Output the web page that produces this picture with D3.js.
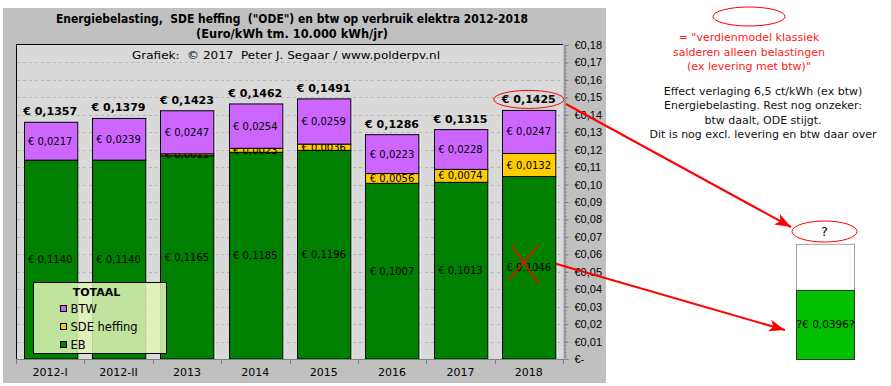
<!DOCTYPE html>
<html>
<head>
<meta charset="utf-8">
<script src="https://cdn.jsdelivr.net/npm/d3@7"></script>
<style>
  body { margin: 0; background: #ffffff; }
  svg { display: block; font-family: Verdana, "DejaVu Sans", sans-serif; }
  text { white-space: pre; }
</style>
</head>
<body>
<svg id="chart" width="891" height="386"></svg>
<script>
const categories = ["2012-I", "2012-II", "2013", "2014", "2015", "2016", "2017", "2018"];
const ebValues  = [0.1140, 0.1140, 0.1165, 0.1185, 0.1196, 0.1007, 0.1013, 0.1046];
const sdeValues = [0, 0, 0.0011, 0.0023, 0.0036, 0.0056, 0.0074, 0.0132];
const btwValues = [0.0217, 0.0239, 0.0247, 0.0254, 0.0259, 0.0223, 0.0228, 0.0247];
const seriesNames = ["BTW", "SDE heffing", "EB"];
const seriesColors = ["#cc66ff", "#ffcc00", "#008000"];
const yTickValues = [0, 0.01, 0.02, 0.03, 0.04, 0.05, 0.06, 0.07, 0.08, 0.09,
  0.10, 0.11, 0.12, 0.13, 0.14, 0.15, 0.16, 0.17, 0.18];

// projectie 2018 na verlaging EB (rechts)
const projectedEb = 0.0396;
const projectedUnknownTop = 0.066;

const titleLines = [
  "Energiebelasting,  SDE heffing  (\"ODE\") en btw op verbruik elektra 2012-2018",
  "(Euro/kWh tm. 10.000 kWh/jr)"
];
const titleWidths = [472, 192];
const creditText = "Grafiek:  \u00a9 2017  Peter J. Segaar / www.polderpv.nl";
const redNote = ["= \"verdienmodel klassiek", "salderen alleen belastingen", "(ex levering met btw)\""];
const blackNote = ["Effect verlaging 6,5 ct/kWh (ex btw)", "Energiebelasting. Rest nog onzeker:",
  "btw daalt, ODE stijgt.", "Dit is nog excl. levering en btw daar over"];

const euro = v => "\u20ac " + v.toFixed(4).replace(".", ",");

function main() {
  const svg = d3.select("#chart");
  const plot = {left: 16, right: 563, top: 44, bottom: 359};

  const x = d3.scaleBand().domain(categories)
    .range([plot.left, plot.right]).paddingInner(0.22).paddingOuter(0.11);
  const y = d3.scaleLinear().domain([0, 0.18]).range([plot.bottom, 45]);

  drawFrame(svg, plot, y);
  drawTitles(svg);
  drawBars(svg, x, y);
  drawAxes(svg, plot, x, y);
  drawLegend(svg);
  drawNotes(svg, x, y);
}

function drawFrame(svg, plot, y) {
  svg.append("rect").attr("x", 3).attr("y", 8).attr("width", 603).attr("height", 375)
    .attr("fill", "#c0c0c0");
  svg.append("rect").attr("x", plot.left).attr("y", plot.top)
    .attr("width", plot.right - plot.left).attr("height", plot.bottom - plot.top)
    .attr("fill", "#d9d9d9");
  svg.append("path")
    .attr("d", `M${plot.left + 0.5},${plot.bottom}V${plot.top + 0.5}H${plot.right}`)
    .attr("fill", "none").attr("stroke", "#000");
  svg.append("g").selectAll("line")
    .data(yTickValues.slice(1, -1))
    .join("line")
    .attr("x1", plot.left + 1).attr("x2", plot.right)
    .attr("y1", d => Math.round(y(d)) + 0.5).attr("y2", d => Math.round(y(d)) + 0.5)
    .attr("stroke", "#b4b4b4").attr("stroke-dasharray", "3,3");
  svg.append("text").attr("x", 286).attr("y", 59)
    .attr("text-anchor", "middle").attr("font-size", 11).attr("fill", "#000")
    .attr("textLength", 308).attr("lengthAdjust", "spacingAndGlyphs")
    .text(creditText);
}

function drawTitles(svg) {
  svg.append("g").selectAll("text")
    .data(titleLines)
    .join("text")
    .attr("x", 292).attr("y", (d, i) => 23 + i * 15)
    .attr("text-anchor", "middle").attr("font-size", 11.5).attr("font-weight", "bold")
    .attr("textLength", (d, i) => titleWidths[i]).attr("lengthAdjust", "spacingAndGlyphs")
    .text(d => d);
}

function drawBars(svg, x, y) {
  const rows = categories.map((c, i) => ({
    cat: c, eb: ebValues[i], sde: sdeValues[i], btw: btwValues[i],
    total: ebValues[i] + sdeValues[i] + btwValues[i]
  }));
  const stack = d3.stack().keys(["eb", "sde", "btw"])(rows);
  const color = d3.scaleOrdinal(["btw", "sde", "eb"], seriesColors);

  // lichte rand rechts van elke staaf
  svg.append("g").selectAll("line")
    .data(rows)
    .join("line")
    .attr("x1", d => x(d.cat) + x.bandwidth() + 1.5).attr("x2", d => x(d.cat) + x.bandwidth() + 1.5)
    .attr("y1", d => y(d.total)).attr("y2", y(0))
    .attr("stroke", "#f4f4f4");

  const layer = svg.append("g").selectAll("g")
    .data(stack)
    .join("g")
    .attr("fill", d => color(d.key));

  layer.selectAll("rect")
    .data(d => d.filter(p => p[1] > p[0]))
    .join("rect")
    .attr("x", d => Math.round(x(d.data.cat)) + 0.5)
    .attr("y", d => y(d[1]))
    .attr("width", x.bandwidth())
    .attr("height", d => y(d[0]) - y(d[1]))
    .attr("stroke", "#000").attr("stroke-width", 1);

  layer.selectAll("text")
    .data(d => d.filter(p => p[1] > p[0]))
    .join("text")
    .attr("x", d => x(d.data.cat) + x.bandwidth() / 2)
    .attr("y", d => (y(d[0]) + y(d[1])) / 2)
    .attr("dy", "0.35em")
    .attr("text-anchor", "middle").attr("font-size", 10).attr("fill", "#000")
    .text(d => euro(d[1] - d[0]));

  svg.append("g").selectAll("text")
    .data(rows)
    .join("text")
    .attr("x", d => x(d.cat) + x.bandwidth() / 2)
    .attr("y", d => y(d.total) - 7)
    .attr("text-anchor", "middle").attr("font-size", 11).attr("font-weight", "bold")
    .text(d => euro(d.total));
}

function drawAxes(svg, plot, x, y) {
  const fmt = v => v === 0 ? "\u20ac-" : "\u20ac" + v.toFixed(2).replace(".", ",");

  const minor = svg.append("g")
    .attr("transform", `translate(${plot.right + 1.5},0)`)
    .call(d3.axisRight(y).ticks(90).tickSize(2).tickFormat(""));
  minor.select(".domain").remove();
  minor.selectAll("line").attr("stroke", "#808080");

  const yAxis = svg.append("g")
    .attr("transform", `translate(${plot.right + 1.5},0)`)
    .call(d3.axisRight(y).tickValues(yTickValues).tickSize(4).tickPadding(6).tickFormat(fmt));
  yAxis.select(".domain").attr("stroke", "#808080");
  yAxis.selectAll("line").attr("stroke", "#808080");
  yAxis.selectAll("text").attr("font-size", 11).attr("font-family", null).attr("fill", "#000");

  const step = x.step();
  const bounds = d3.range(categories.length + 1).map(i => plot.left + i * step);
  svg.append("line")
    .attr("x1", plot.left).attr("x2", plot.right)
    .attr("y1", plot.bottom + 0.5).attr("y2", plot.bottom + 0.5)
    .attr("stroke", "#808080");
  svg.append("g").selectAll("line")
    .data(bounds)
    .join("line")
    .attr("x1", d => Math.round(d) + 0.5).attr("x2", d => Math.round(d) + 0.5)
    .attr("y1", plot.bottom).attr("y2", plot.bottom + 5)
    .attr("stroke", "#808080");
  svg.append("g").selectAll("text")
    .data(categories)
    .join("text")
    .attr("x", d => x(d) + x.bandwidth() / 2)
    .attr("y", 376)
    .attr("text-anchor", "middle").attr("font-size", 11).attr("fill", "#000")
    .text(d => d);
}

function drawLegend(svg) {
  const g = svg.append("g").attr("transform", "translate(33.5,282.5)");
  g.append("rect").attr("width", 133).attr("height", 71)
    .attr("fill", "#e2f4b8").attr("fill-opacity", 0.85).attr("stroke", "#000");
  g.append("text").attr("x", 63).attr("y", 13)
    .attr("text-anchor", "middle").attr("font-size", 11).attr("font-weight", "bold")
    .text("TOTAAL");
  const item = g.selectAll("g.item")
    .data(seriesNames)
    .join("g")
    .attr("class", "item")
    .attr("transform", (d, i) => `translate(27,${26 + i * 18})`);
  item.append("rect").attr("width", 6).attr("height", 6).attr("y", -3)
    .attr("fill", (d, i) => seriesColors[i]).attr("stroke", "#000");
  item.append("text").attr("x", 10).attr("dy", "0.35em").attr("font-size", 11.5)
    .text(d => d);
}

function drawNotes(svg, x, y) {
  const defs = svg.append("defs");
  defs.append("marker").attr("id", "arrow")
    .attr("viewBox", "0 0 16 12").attr("refX", 16).attr("refY", 6)
    .attr("markerWidth", 16).attr("markerHeight", 12)
    .attr("markerUnits", "userSpaceOnUse").attr("orient", "auto")
    .append("path").attr("d", "M0,0L16,6L0,12L4,6Z").attr("fill", "#ff0000");

  // ellips rond totaal 2018
  const last = categories[categories.length - 1];
  const cx = x(last) + x.bandwidth() / 2;
  const total2018 = ebValues[7] + sdeValues[7] + btwValues[7];
  svg.append("ellipse").attr("cx", cx).attr("cy", y(total2018) - 11)
    .attr("rx", 35).attr("ry", 9)
    .attr("fill", "none").attr("stroke", "#ff0000");

  // kruis over EB 2018
  const ebMid = y(ebValues[7] / 2);
  svg.append("path")
    .attr("d", `M${cx - 17},${ebMid - 22}L${cx + 10},${ebMid + 16}M${cx + 9},${ebMid - 22}L${cx - 20},${ebMid + 12}`)
    .attr("fill", "none").attr("stroke", "#ff0000").attr("stroke-width", 1.5);

  // projectie staaf
  const px = 796, pw = 58;
  svg.append("rect").attr("x", px + 0.5).attr("y", y(projectedUnknownTop) + 0.5)
    .attr("width", pw).attr("height", y(projectedEb) - y(projectedUnknownTop))
    .attr("fill", "#fff").attr("stroke", "#444").attr("stroke-dasharray", "1,1");
  svg.append("rect").attr("x", px + 0.5).attr("y", y(projectedEb) + 0.5)
    .attr("width", pw).attr("height", y(0) - y(projectedEb))
    .attr("fill", "#00c000").attr("stroke", "#333");
  svg.append("text").attr("x", px + pw / 2 + 0.5).attr("y", (y(projectedEb) + y(0)) / 2)
    .attr("dy", "0.35em").attr("text-anchor", "middle").attr("font-size", 10.5)
    .text("?" + euro(projectedEb) + "?");
  svg.append("ellipse").attr("cx", 824.5).attr("cy", 231.5).attr("rx", 32.5).attr("ry", 10.5)
    .attr("fill", "none").attr("stroke", "#ff0000");
  svg.append("text").attr("x", 824.5).attr("y", 231.5).attr("dy", "0.35em")
    .attr("text-anchor", "middle").attr("font-size", 13).text("?");

  // pijlen
  svg.append("line").attr("x1", 566).attr("y1", 104).attr("x2", 791).attr("y2", 227)
    .attr("stroke", "#ff0000").attr("stroke-width", 2).attr("marker-end", "url(#arrow)");
  svg.append("line").attr("x1", cx + 27).attr("y1", ebMid - 4).attr("x2", 785).attr("y2", 330)
    .attr("stroke", "#ff0000").attr("stroke-width", 2).attr("marker-end", "url(#arrow)");

  // teksten rechts
  svg.append("ellipse").attr("cx", 749).attr("cy", 16.5).attr("rx", 36).attr("ry", 9.5)
    .attr("fill", "none").attr("stroke", "#ff0000");
  svg.append("g").selectAll("text")
    .data(redNote)
    .join("text")
    .attr("x", 749).attr("y", (d, i) => 41 + i * 14.5)
    .attr("text-anchor", "middle").attr("font-size", 11).attr("fill", "#ff2020")
    .text(d => d);
  svg.append("g").selectAll("text")
    .data(blackNote)
    .join("text")
    .attr("x", 763).attr("y", (d, i) => 95 + i * 14.3)
    .attr("text-anchor", "middle").attr("font-size", 11).attr("fill", "#111")
    .text(d => d);
}

main();
</script>
</body>
</html>
